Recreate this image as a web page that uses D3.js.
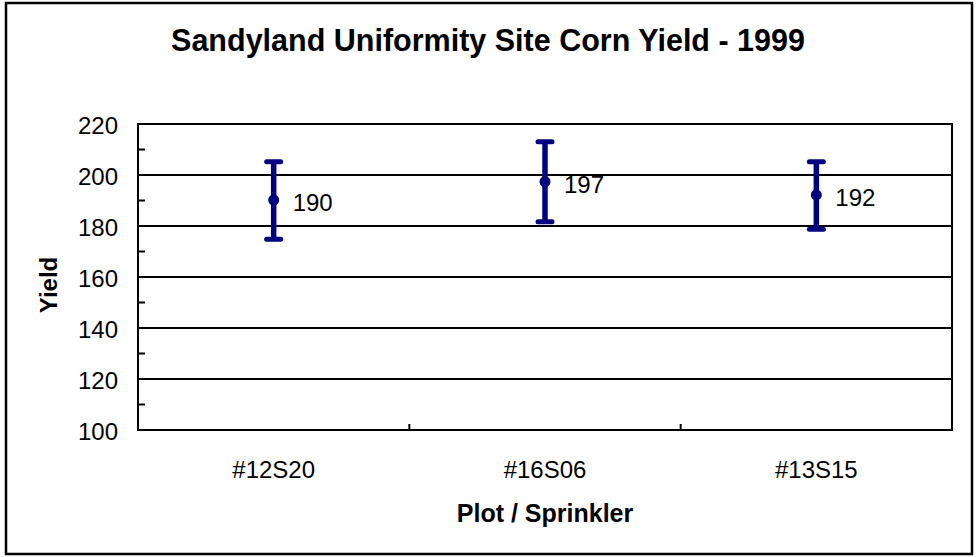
<!DOCTYPE html>
<html>
<head>
<meta charset="utf-8">
<script src="https://cdn.jsdelivr.net/npm/d3@7"></script>
<style>
    body { margin: 0; background: #fff; }
    text { font-family: "Liberation Sans", Arial, sans-serif; fill: #000; }
</style>
</head>
<body>
<div id="chart"></div>
<script>
// data
var plots = ["#12S20", "#16S06", "#13S15"];
var meanYield = [190.2, 197.4, 192.2];
var upperYield = [205.2, 213.0, 205.2];
var lowerYield = [174.8, 181.7, 178.7];
var yTicks = [100, 120, 140, 160, 180, 200, 220];
var yMinorTicks = [110, 130, 150, 170, 190, 210];

var width = 976, height = 557;
var plot = { left: 138, right: 952, top: 124, bottom: 430 };

var svg = d3.select("#chart").append("svg")
    .attr("width", width)
    .attr("height", height);

// outer chart frame
svg.append("rect")
    .attr("x", 6).attr("y", 3)
    .attr("width", 966).attr("height", 551)
    .attr("fill", "#fff")
    .attr("stroke", "#000")
    .attr("stroke-width", 2.5);

var x = d3.scaleBand()
    .domain(plots)
    .range([plot.left, plot.right]);

var y = d3.scaleLinear()
    .domain([100, 220])
    .range([plot.bottom, plot.top]);

var g = svg.append("g");

// gridlines
g.selectAll("line.grid")
    .data(yTicks)
    .join("line")
    .attr("class", "grid")
    .attr("x1", plot.left).attr("x2", plot.right)
    .attr("y1", function (d) { return y(d); })
    .attr("y2", function (d) { return y(d); })
    .attr("stroke", "#000")
    .attr("stroke-width", 2);

// plot border
g.append("rect")
    .attr("x", plot.left).attr("y", plot.top)
    .attr("width", plot.right - plot.left)
    .attr("height", plot.bottom - plot.top)
    .attr("fill", "none")
    .attr("stroke", "#000")
    .attr("stroke-width", 2);

// y axis labels
var yAxis = d3.axisLeft(y)
    .tickValues(yTicks)
    .tickSize(0)
    .tickPadding(20);
var ya = g.append("g")
    .attr("transform", "translate(" + plot.left + ",0)")
    .call(yAxis);
ya.select(".domain").remove();
ya.selectAll("text")
    .style("font-family", "'Liberation Sans', Arial, sans-serif")
    .style("font-size", "24px")
    .attr("dy", "0.38em");

// minor ticks inside on the left
g.selectAll("line.minor")
    .data(yMinorTicks)
    .join("line")
    .attr("class", "minor")
    .attr("x1", plot.left).attr("x2", plot.left + 7)
    .attr("y1", function (d) { return y(d); })
    .attr("y2", function (d) { return y(d); })
    .attr("stroke", "#000")
    .attr("stroke-width", 2);

// x axis: category labels and boundary ticks
var xAxis = d3.axisBottom(x)
    .tickSize(0)
    .tickPadding(31);
var xa = g.append("g")
    .attr("transform", "translate(0," + plot.bottom + ")")
    .call(xAxis);
xa.select(".domain").remove();
xa.selectAll("text")
    .style("font-family", "'Liberation Sans', Arial, sans-serif")
    .style("font-size", "24px");

g.selectAll("line.xtick")
    .data(plots.slice(1))
    .join("line")
    .attr("class", "xtick")
    .attr("x1", function (d) { return x(d); })
    .attr("x2", function (d) { return x(d); })
    .attr("y1", plot.bottom).attr("y2", plot.bottom - 6)
    .attr("stroke", "#000")
    .attr("stroke-width", 2);

// error bars
var navy = "#000080";
var bars = g.selectAll("g.bar")
    .data(plots)
    .join("g")
    .attr("class", "bar")
    .attr("transform", function (d) { return "translate(" + (x(d) + x.bandwidth() / 2) + ",0)"; });

bars.append("line")
    .attr("x1", 0).attr("x2", 0)
    .attr("y1", function (d, i) { return y(upperYield[i]); })
    .attr("y2", function (d, i) { return y(lowerYield[i]); })
    .attr("stroke", navy)
    .attr("stroke-width", 5.5);

bars.selectAll("line.cap")
    .data(function (d, i) { return [upperYield[i], lowerYield[i]]; })
    .join("line")
    .attr("class", "cap")
    .attr("x1", -7).attr("x2", 7)
    .attr("y1", function (v) { return y(v); })
    .attr("y2", function (v) { return y(v); })
    .attr("stroke", navy)
    .attr("stroke-width", 5)
    .attr("stroke-linecap", "round");

bars.append("circle")
    .attr("cx", 0)
    .attr("cy", function (d, i) { return y(meanYield[i]); })
    .attr("r", 5.5)
    .attr("fill", navy);

bars.append("text")
    .attr("x", 19)
    .attr("y", function (d, i) { return y(meanYield[i]); })
    .attr("dy", 11)
    .style("font-size", "24px")
    .text(function (d, i) { return Math.round(meanYield[i]); });

// titles
svg.append("text")
    .attr("x", 488).attr("y", 51)
    .attr("text-anchor", "middle")
    .style("font-size", "30.5px")
    .style("font-weight", "bold")
    .text("Sandyland Uniformity Site Corn Yield - 1999");

svg.append("text")
    .attr("x", (plot.left + plot.right) / 2).attr("y", 522)
    .attr("text-anchor", "middle")
    .style("font-size", "25px")
    .style("font-weight", "bold")
    .text("Plot / Sprinkler");

svg.append("text")
    .attr("transform", "translate(57," + ((plot.top + plot.bottom) / 2 + 8) + ") rotate(-90)")
    .attr("text-anchor", "middle")
    .style("font-size", "24px")
    .style("font-weight", "bold")
    .text("Yield");
</script>
</body>
</html>
